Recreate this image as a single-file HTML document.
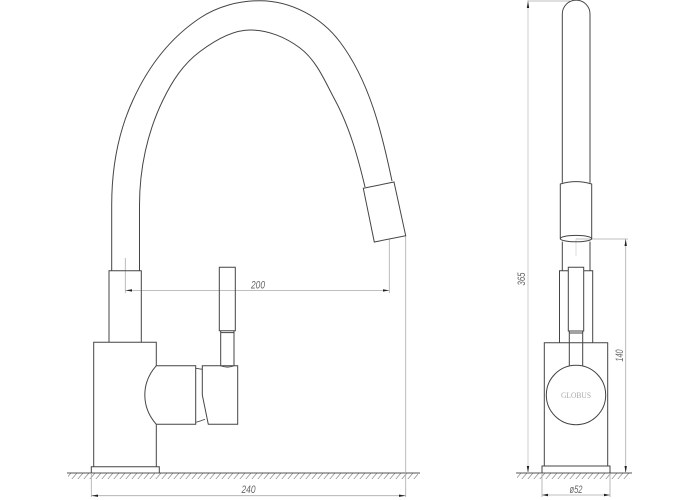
<!DOCTYPE html>
<html>
<head>
<meta charset="utf-8">
<style>
html,body{margin:0;padding:0;background:#fff}
svg{display:block}
text{font-family:"Liberation Sans",sans-serif;font-style:italic;font-size:11px;fill:#666;text-anchor:middle}
</style>
</head>
<body>
<svg width="700" height="500" viewBox="0 0 700 500" xmlns="http://www.w3.org/2000/svg">
<defs>
<pattern id="h" width="6" height="7" patternUnits="userSpaceOnUse" patternTransform="translate(0 473)">
<path d="M-1 7L5 0M5 7L11 0" stroke="#777" stroke-width=".6" fill="none"/>
</pattern>
</defs>

<!-- ground -->
<rect x="68" y="473" width="350" height="6" fill="url(#h)"/>
<rect x="517" y="473" width="113" height="6" fill="url(#h)"/>
<path d="M67 473H420M516 473H632" stroke="#555" stroke-width="1" fill="none"/>

<!-- dimension lines -->
<g stroke="#aaa" stroke-width=".8" fill="none">
<path d="M125.3 258V293M125.3 290.4H389.3M389.3 239V293"/>
<path d="M405.7 236V497M91.3 473V497M91.3 495.7H405.7"/>
<path d="M528 1H570"/>
<path d="M576 239H628M625.7 239V473"/>
<path d="M542 473V497M610 473V497M542 495H610"/>
</g>
<path d="M576 239V256" stroke="#ddd" stroke-width="1" fill="none"/>
<path d="M528 0V473" stroke="#ccc" stroke-width="1" fill="none"/>

<!-- arrowheads -->
<g fill="#222">
<path d="M125.5 290.4L132 289.2V291.6Z"/>
<path d="M389 290.4L383 289.2V291.6Z"/>
<path d="M91.5 495.7L98 494.5V496.9Z"/>
<path d="M405.5 495.7L399 494.5V496.9Z"/>
<path d="M528 1L526.8 8H529.2Z"/>
<path d="M528 473L526.8 466H529.2Z"/>
<path d="M625.7 239L624.5 246H626.9Z"/>
<path d="M625.7 473L624.5 466H626.9Z"/>
<path d="M542 495L548 493.8V496.2Z"/>
<path d="M610 495L604 493.8V496.2Z"/>
</g>

<!-- side view -->
<g stroke="#444" stroke-width="1" fill="none">
<path d="M111.7 270.7V205C111.7 168 117.5 133.7 133 100C148 67 170 38 200 18C217.4 6.4 239 .7 260 .7C291 .7 321.4 17.2 340 42C369.4 81 382 133 392 181"/>
<path d="M139.5 270.7V205C139.5 169 147.2 132.4 163 100C172.2 81 183.2 64 200 51.5C214.4 40.7 232 30 250 30C268 30 285.6 37.2 300 48C316.8 60.6 325 81.5 335 100C349.6 127.3 357.9 157 365 187"/>
<path d="M363.3 188.3L394 182L405.7 235.7L374.3 242Z"/>
<path d="M109 342.3V270.7H141.3V342.3"/>
<path d="M93.7 466.7V342.3H156.3V365.7M156.3 424.3V466.7"/>
<path d="M91.3 473V466.7H159.3V473"/>
<path d="M156.3 365.7C141 383 141 407 156.3 424.3"/>
<path d="M156.3 365.7H195.7V424.3H156.3"/>
<path d="M196 368.3L202.3 369.3M196 422.3C199 421.5 202 420.5 205 419.3" stroke-width=".8"/>
<path d="M202.3 365.7H237.7V424.3H208.3L202.3 395Z"/>
<path d="M219.3 267.3H235.3V330.7H219.3Z"/>
<path d="M220.7 332.6H234"/>
<path d="M220.7 330.7V365.7M234 330.7V365.7M220.7 365.7C225 367.5 230 367.5 234 365.7"/>
</g>

<!-- front view -->
<g stroke="#444" stroke-width="1" fill="none">
<path d="M562.3 182.7V14A13.85 13.85 0 0 1 590 14V182.7"/>
<path d="M560.3 238.6V184C570 180.8 582 180.8 591.7 184V238.6"/>
<ellipse cx="576" cy="238.6" rx="15.7" ry="3.2"/>
<path d="M562.3 241.6V270.7M590 241.6V270.7"/>
<path d="M559.5 342.7V270.7H568.3M583.7 270.7H592.7V342.7"/>
<path d="M568.3 267.3H583.7V331H568.3Z"/>
<path d="M569.3 331V366M582.7 331V366M569.3 333H582.7"/>
<path d="M544.3 466V342.7H607.7V466"/>
<path d="M542 473V466H610V473"/>
<circle cx="576" cy="395" r="29.7"/>
</g>

<!-- labels -->
<text x="258" y="288.5" textLength="14" lengthAdjust="spacingAndGlyphs">200</text>
<text x="248.5" y="493" textLength="14" lengthAdjust="spacingAndGlyphs">240</text>
<text x="576" y="493" textLength="13" lengthAdjust="spacingAndGlyphs">ø52</text>
<text transform="translate(525 279) rotate(-90)" textLength="13" lengthAdjust="spacingAndGlyphs">365</text>
<text transform="translate(623 355.5) rotate(-90)" textLength="12" lengthAdjust="spacingAndGlyphs">140</text>
<text x="576" y="398" textLength="30" lengthAdjust="spacingAndGlyphs" style="font-family:'Liberation Serif',serif;font-style:normal;font-size:8px;fill:#aaa">GLOBUS</text>
</svg>
</body>
</html>
